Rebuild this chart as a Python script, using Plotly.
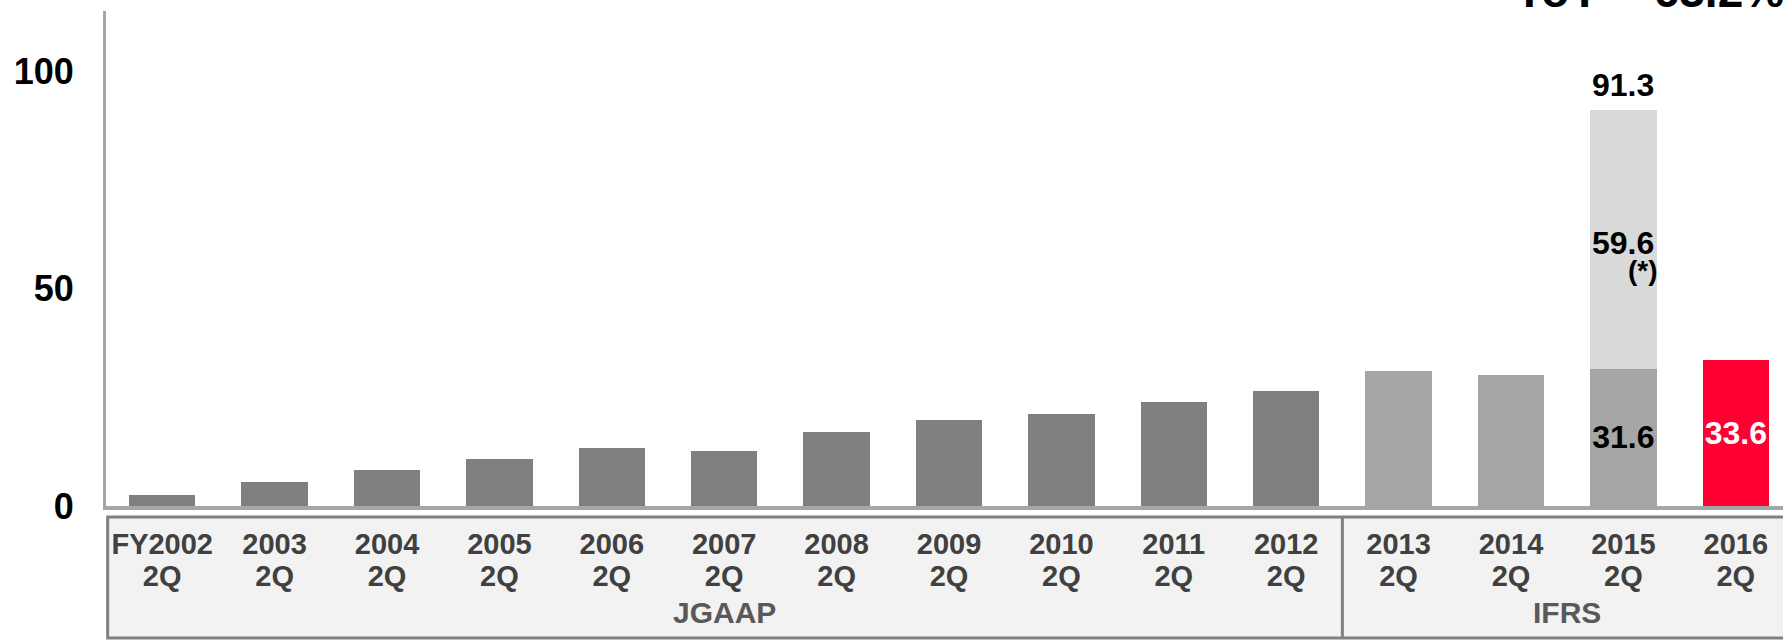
import plotly.graph_objects as go

years = ["FY2002", "2003", "2004", "2005", "2006", "2007", "2008", "2009", "2010", "2011",
         "2012", "2013", "2014", "2015", "2016"]
quarters = ["2Q"] * 15
base_values = [2.5, 5.5, 8.2, 10.9, 13.3, 12.6, 17.1, 19.7, 21.1, 23.9, 26.6, 31.1, 30.1, 31.6, 33.6]
extra_values = [None] * 13 + [59.6, None]
base_colors = ["#808080"] * 11 + ["#a6a6a6"] * 3 + ["#ff0033"]
base_labels = [""] * 13 + ["31.6", "33.6"]
label_colors = ["black"] * 14 + ["white"]
extra_labels = [""] * 13 + ["59.6", ""]
total_label = "91.3"
note_label = "(*)"
groups = [("JGAAP", 5), ("IFRS", 12.5)]
divider_pos = 10.5
title_text = "YoY\u00a0\u00a0-\u00a063.2%"

FONT = "Liberation Sans, Arial, sans-serif"
XRANGE = [-0.5, 14.42]

fig = go.Figure()
fig.add_trace(go.Bar(
    x=years, y=base_values, marker=dict(color=base_colors, line=dict(width=0)),
    text=base_labels, textposition="inside", insidetextanchor="middle",
    textangle=0, constraintext="none",
    textfont=dict(family=FONT, size=32, color=label_colors, weight="bold"),
    hoverinfo="skip", showlegend=False,
))
fig.add_trace(go.Bar(
    x=years, y=extra_values, marker=dict(color="#d9d9d9", line=dict(width=0)),
    textposition="none", hoverinfo="skip", showlegend=False,
))
# carrier for the second line of category labels
fig.add_trace(go.Scatter(
    x=years, y=[0] * len(years), xaxis="x2", mode="markers",
    marker=dict(opacity=0, size=1), hoverinfo="skip", showlegend=False,
))

i15 = 13
total = base_values[i15] + extra_values[i15]
mid_extra = base_values[i15] + extra_values[i15] / 2
annotations = [
    dict(x=i15, y=total, xref="x", yref="y", text=total_label, showarrow=False,
         yanchor="bottom", yshift=5, font=dict(family=FONT, size=32, color="black", weight="bold")),
    dict(x=i15, y=mid_extra, xref="x", yref="y",
         text=extra_labels[i15], showarrow=False, yshift=-4,
         font=dict(family=FONT, size=32, color="black", weight="bold")),
    dict(x=i15, y=mid_extra, xref="x", yref="y",
         text=note_label, showarrow=False, xshift=20, yshift=-31,
         font=dict(family=FONT, size=28, color="black", weight="bold")),
    dict(x=0.8384, y=0.984, xref="paper", yref="paper", xanchor="left", yanchor="bottom",
         text=title_text, showarrow=False,
         font=dict(family=FONT, size=46, color="black", weight="bold")),
]
for name, pos in groups:
    annotations.append(dict(x=pos, y=-0.216, xref="x", yref="paper", text=name, showarrow=False,
                            yanchor="middle",
                            font=dict(family=FONT, size=30, color="#595959", weight="bold")))

shapes = [
    dict(type="rect", xref="paper", yref="paper", x0=0.001, x1=1.01, y0=-0.0222, y1=-0.2667,
         fillcolor="#f2f2f2", line=dict(color="#808080", width=3), layer="below"),
    dict(type="line", xref="x", yref="paper", x0=divider_pos, x1=divider_pos, y0=-0.0222, y1=-0.2667,
         line=dict(color="#808080", width=3), layer="below"),
]

tickfont = dict(family=FONT, size=29, color="#404040", weight="bold")
fig.update_layout(
    width=1783, height=640,
    margin=dict(l=106, r=0, t=11, b=134),
    paper_bgcolor="white", plot_bgcolor="white",
    barmode="stack", bargap=0.41,
    annotations=annotations, shapes=shapes,
    font=dict(family=FONT),
    xaxis=dict(type="category", categoryorder="array", categoryarray=years, range=XRANGE,
               showline=True, linecolor="#a6a6a6", linewidth=4,
               showgrid=False, zeroline=False, ticks="", ticklabelstandoff=9, tickfont=tickfont),
    xaxis2=dict(type="category", categoryorder="array", categoryarray=years, range=XRANGE,
                overlaying="x", side="bottom", anchor="y",
                tickvals=years, ticktext=quarters,
                showline=False, showgrid=False, zeroline=False, ticks="", ticklabelstandoff=50,
                tickfont=tickfont),
    yaxis=dict(range=[0, 114], tickvals=[0, 50, 100], showline=True, linecolor="#a6a6a6", linewidth=3,
               showgrid=False, zeroline=False, ticks="", ticklabelstandoff=22,
               tickfont=dict(family=FONT, size=36, color="black", weight="bold")),
)

fig.write_html("out.html")
